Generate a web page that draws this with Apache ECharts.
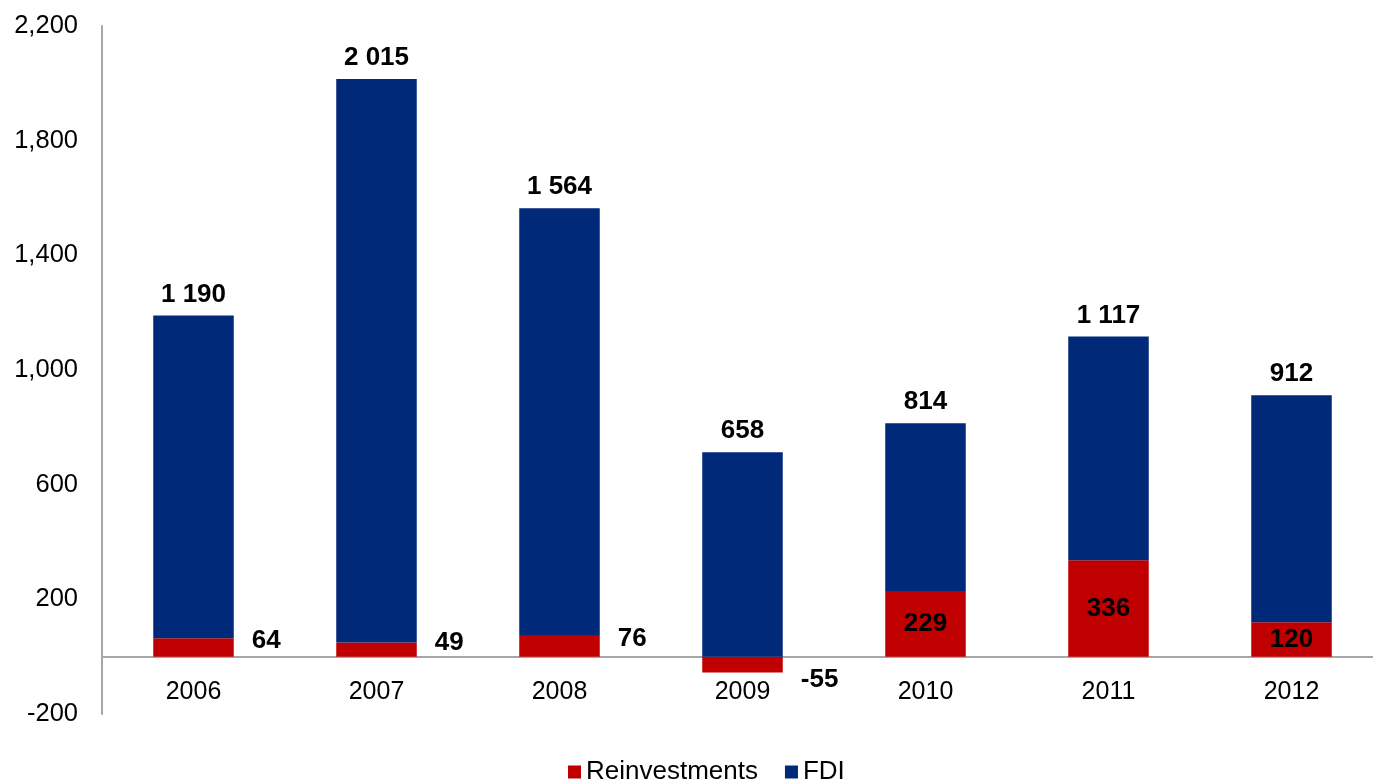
<!DOCTYPE html>
<html>
<head>
<meta charset="utf-8">
<script src="https://cdn.jsdelivr.net/npm/echarts@6/dist/echarts.min.js"></script>
<style>
html,body{margin:0;padding:0;background:#fff;overflow:hidden;}
#chart{width:1390px;height:779px;}
</style>
</head>
<body>
<div id="chart"></div>
<script>
var years = ['2006','2007','2008','2009','2010','2011','2012'];
var reinvestments = [64, 49, 76, -55, 229, 336, 120];
var fdi = [1190, 2015, 1564, 658, 814, 1117, 912];

var RED = '#C00000', BLUE = '#00297A';
var FONT = 'Liberation Sans, Arial, sans-serif';

function spaceFmt(v){
  var s = String(Math.abs(v)).replace(/\B(?=(\d{3})+(?!\d))/g, ' ');
  return (v < 0 ? '-' : '') + s;
}

var redData = reinvestments.map(function(v){
  var inside = v >= 100;
  return {
    value: v,
    label: inside ? {position: 'inside'} :
      {position: 'right', distance: 18, offset: [0, v < 0 ? 15 : -7]}
  };
});
var blueData = fdi.map(function(v, i){ return v - reinvestments[i]; });

var chart = echarts.init(document.getElementById('chart'));
chart.setOption({
  animation: false,
  textStyle: {fontFamily: FONT},
  grid: {left: 102, top: 26, width: 1281, height: 688, containLabel: false},
  legend: {
    data: ['Reinvestments', 'FDI'],
    left: 563, top: 754,
    itemWidth: 13, itemHeight: 13, itemGap: 27,
    icon: 'rect',
    textStyle: {fontSize: 26, color: '#000', fontFamily: FONT}
  },
  xAxis: {
    type: 'category',
    data: years,
    axisLine: {onZero: true, lineStyle: {color: '#A6A6A6', width: 2}},
    axisTick: {show: false},
    axisLabel: {color: '#000', fontSize: 25, margin: -34, fontFamily: FONT},
    splitLine: {show: false}
  },
  yAxis: {
    type: 'value',
    min: -200, max: 2200, interval: 200,
    axisLine: {show: true, lineStyle: {color: '#A6A6A6', width: 2}},
    axisTick: {show: false},
    splitLine: {show: false},
    axisLabel: {
      color: '#000', fontSize: 25.5, margin: 24, fontFamily: FONT,
      formatter: function(v){
        if (((v + 200) % 400) !== 0) return '';
        return v.toLocaleString('en-US');
      }
    }
  },
  series: [
    {
      name: 'Reinvestments', type: 'bar', stack: 'total',
      barWidth: '44%',
      itemStyle: {color: RED},
      label: {show: true, fontSize: 26, fontWeight: 'bold', color: '#000', fontFamily: FONT,
        formatter: function(p){ return spaceFmt(p.value); }},
      data: redData
    },
    {
      name: 'FDI', type: 'bar', stack: 'total',
      barWidth: '44%',
      itemStyle: {color: BLUE},
      label: {show: true, position: 'top', distance: 8, fontSize: 26, fontWeight: 'bold', color: '#000', fontFamily: FONT,
        formatter: function(p){ return spaceFmt(fdi[p.dataIndex]); }},
      data: blueData
    }
  ]
});
</script>
</body>
</html>
